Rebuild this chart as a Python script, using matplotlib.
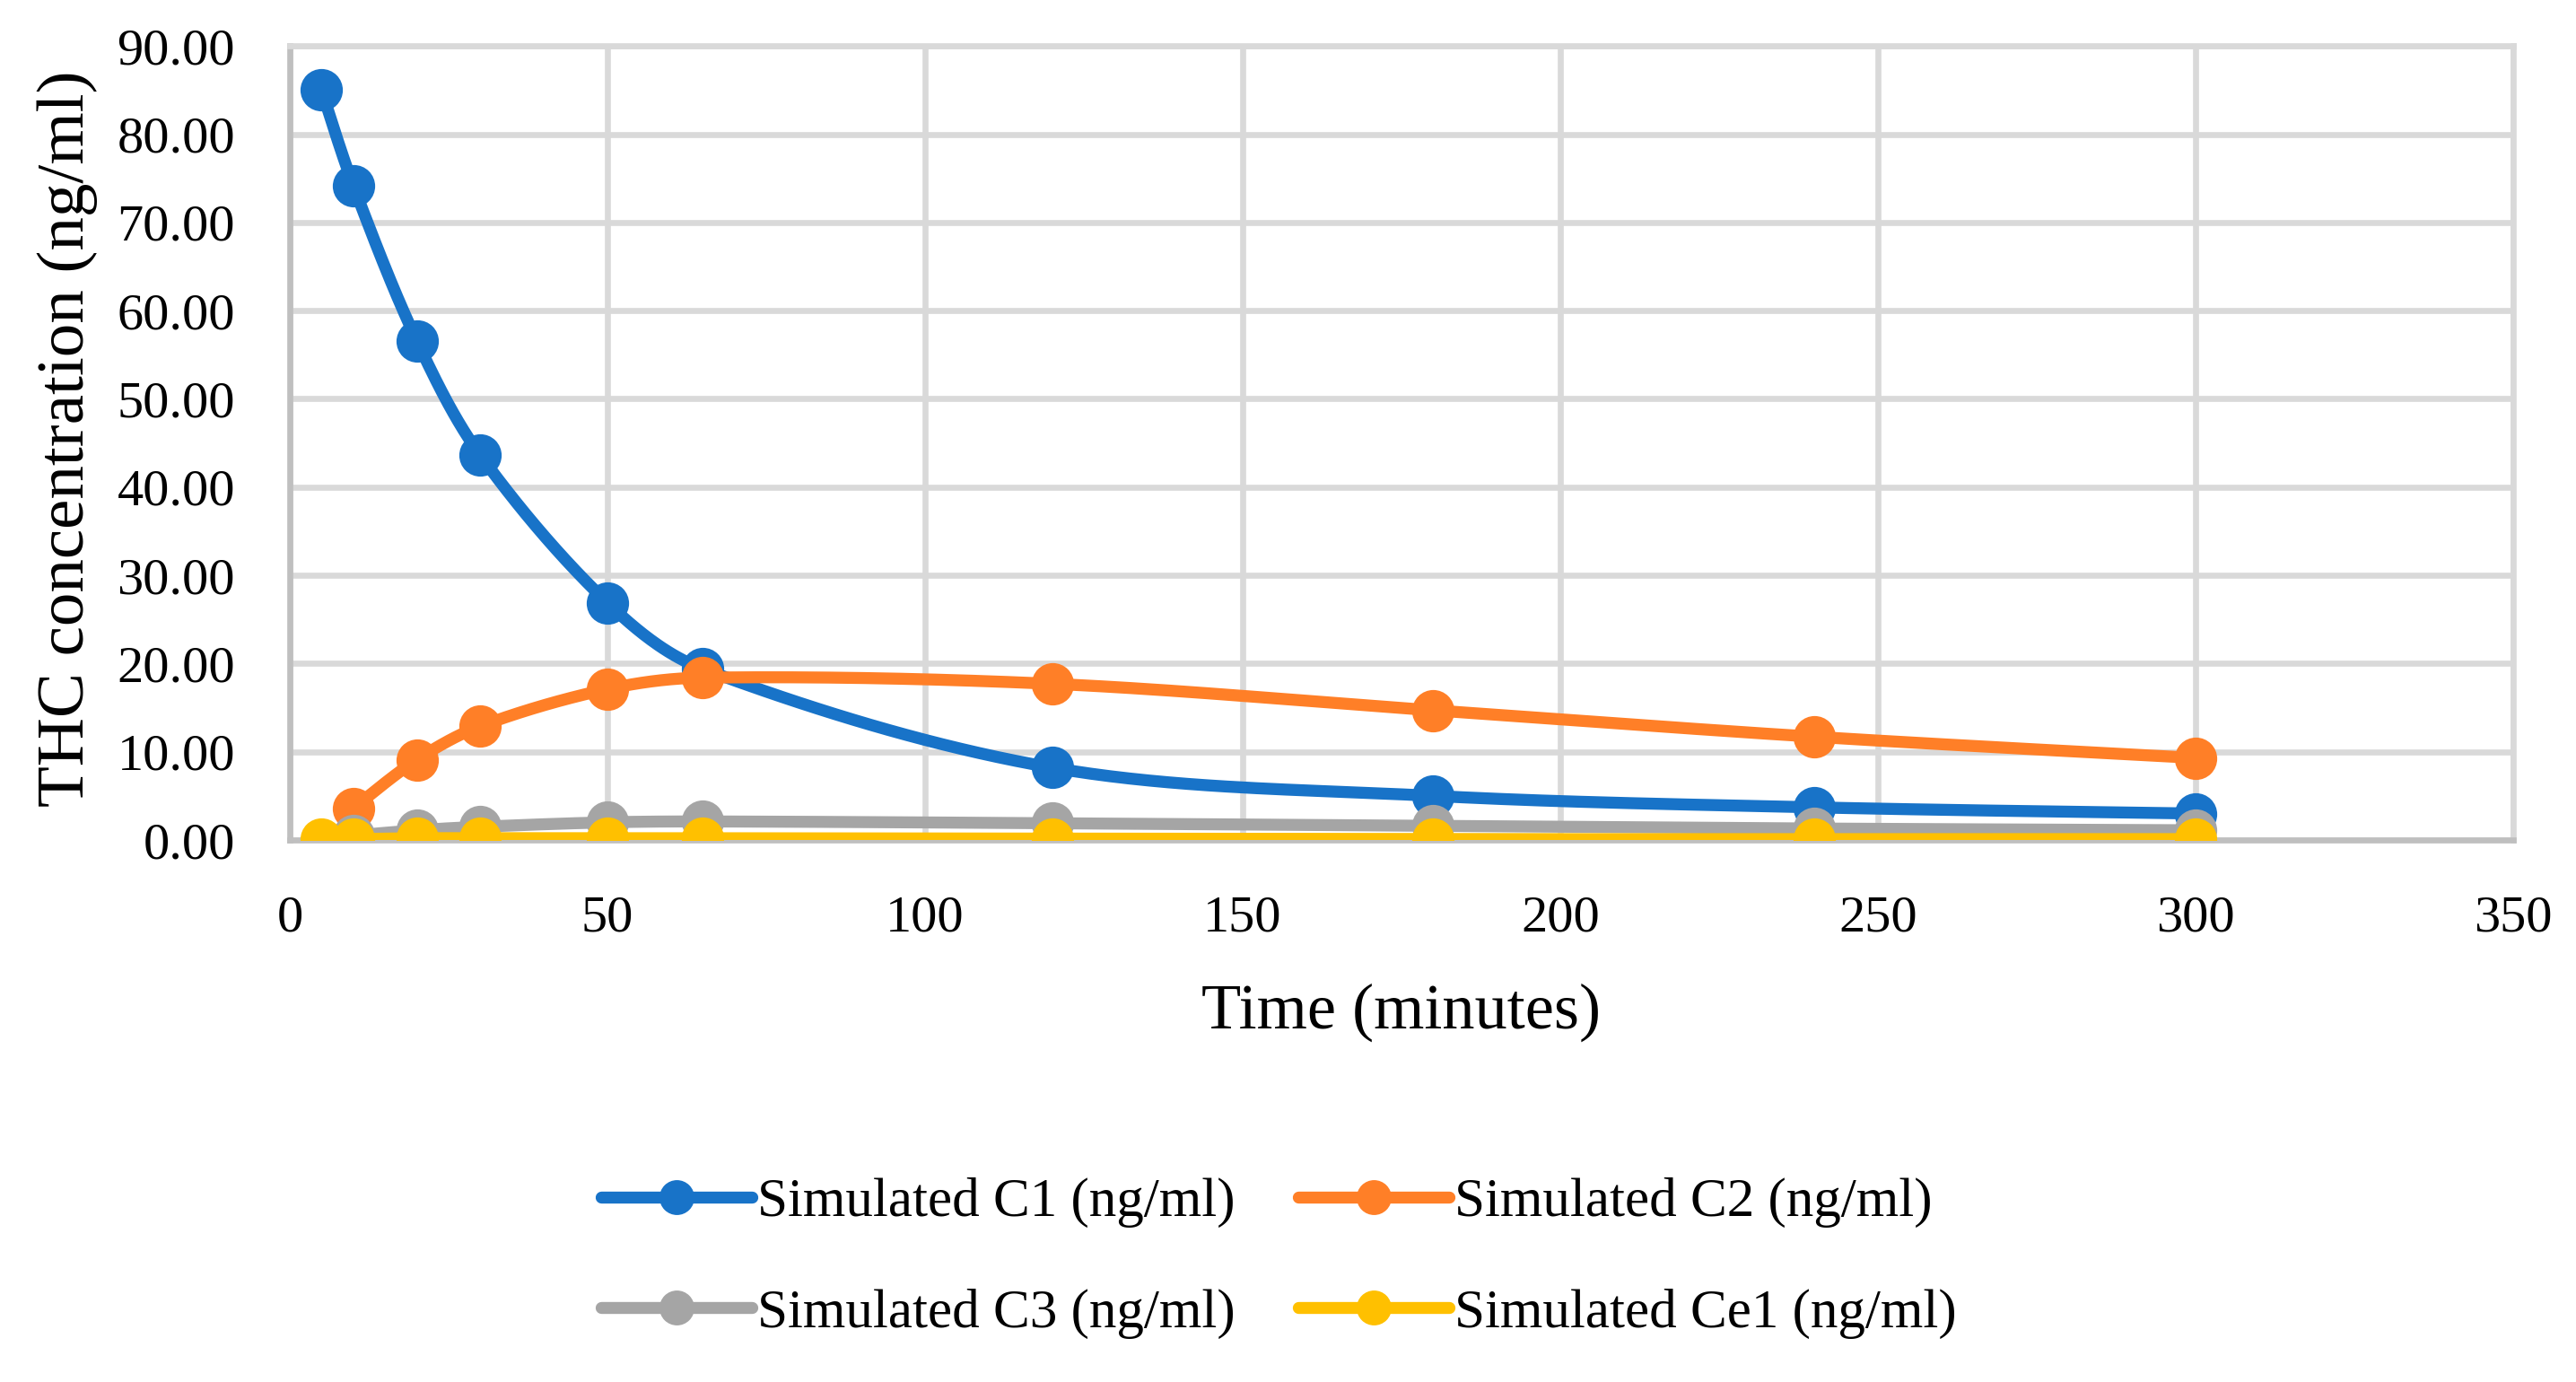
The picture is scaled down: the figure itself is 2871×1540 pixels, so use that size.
import numpy as np
import matplotlib
matplotlib.use('Agg')
import matplotlib.pyplot as plt
from matplotlib.lines import Line2D

plt.rcParams['font.family'] = ['Liberation Serif', 'DejaVu Serif']

# data
time_min = [5, 10, 20, 30, 50, 65, 120, 180, 240, 300]
c1 = [85.0, 74.2, 56.6, 43.6, 26.9, 19.4, 8.2, 5.0, 3.7, 3.0]
c2 = [np.nan, 3.6, 9.1, 12.9, 17.1, 18.4, 17.7, 14.7, 11.7, 9.3]
c3 = [np.nan, 0.5, 1.1, 1.5, 2.0, 2.1, 1.9, 1.6, 1.3, 1.1]
ce1 = [0.1, 0.1, 0.2, 0.2, 0.2, 0.2, 0.15, 0.1, 0.1, 0.1]

labels = ['Simulated C1 (ng/ml)', 'Simulated C2 (ng/ml)',
          'Simulated C3 (ng/ml)', 'Simulated Ce1 (ng/ml)']
colors = ['#1873C8', '#FF7F27', '#A5A5A5', '#FFC000']

x_ticks = np.arange(0, 351, 50)
y_ticks = np.arange(0, 91, 10)

# rough pixel size of one data unit, so the smoothing works in screen space
SX, SY = 7.08, 9.83


def smooth(xs, ys, n=40):
    # excel-like smoothed line: bezier segments, tangents scaled by segment length
    pts = np.column_stack([np.asarray(xs) * SX, np.asarray(ys) * SY])
    m = len(pts)
    out = []
    for i in range(m - 1):
        p1 = pts[i]
        p2 = pts[i + 1]
        d12 = np.hypot(*(p2 - p1))
        if i == 0:
            k1 = p1 + (p2 - p1) / 6.0
        else:
            p0 = pts[i - 1]
            d01 = np.hypot(*(p1 - p0))
            k1 = p1 + (p2 - p0) * d12 / (d01 + d12) / 3.0
        if i + 2 > m - 1:
            k2 = p2 - (p2 - p1) / 6.0
        else:
            p3 = pts[i + 2]
            d23 = np.hypot(*(p3 - p2))
            k2 = p2 - (p3 - p1) * d12 / (d12 + d23) / 3.0
        t = np.linspace(0, 1, n)[:, None]
        seg = ((1 - t) ** 3 * p1 + 3 * (1 - t) ** 2 * t * k1
               + 3 * (1 - t) * t ** 2 * k2 + t ** 3 * p2)
        out.append(seg if i == 0 else seg[1:])
    out = np.vstack(out)
    return out[:, 0] / SX, out[:, 1] / SY


fig = plt.figure(figsize=(14.355, 7.7), dpi=200)
ax = fig.add_axes([0.1125, 0.3922, 0.8631, 0.5745])

lw = 4.8
ms = 17
for i, (ys, col) in enumerate(zip([c1, c2, c3, ce1], colors)):
    xs = np.array(time_min, dtype=float)
    ys = np.array(ys, dtype=float)
    ok = ~np.isnan(ys)
    sx, sy = smooth(xs[ok], ys[ok])
    ax.plot(sx, sy, color=col, lw=lw, solid_capstyle='round', zorder=3 + 2 * i)
    ax.plot(xs[ok], ys[ok], 'o', color=col, ms=ms, mec='none', zorder=4 + 2 * i)

ax.set_xlim(0, 350)
ax.set_ylim(0, 90)
ax.set_xticks(x_ticks)
ax.set_yticks(y_ticks)
ax.set_yticklabels(['%.2f' % v for v in y_ticks])
ax.tick_params(length=0, labelsize=21, pad=22)
ax.grid(True, color='#D9D9D9', lw=2.4, zorder=0)
ax.set_axisbelow(True)
for s in ['left', 'bottom']:
    ax.spines[s].set_color('#BFBFBF')
    ax.spines[s].set_linewidth(2.4)
for s in ['top', 'right']:
    ax.spines[s].set_color('#D9D9D9')
    ax.spines[s].set_linewidth(2.4)

ax.set_xlabel('Time (minutes)', fontsize=26, va='center')
ax.xaxis.set_label_coords(0.5, -0.217)
ax.set_ylabel('THC concentration (ng/ml)', fontsize=27, va='center')
ax.yaxis.set_label_coords(-0.1, 0.505)

handles = [Line2D([], [], color=c, lw=lw, marker='o', ms=14, mec='none',
                  solid_capstyle='round') for c in colors]
# legend fills column by column, so order it to read C1 C2 / C3 Ce1 by rows
order = [0, 2, 1, 3]
fig.legend([handles[k] for k in order], [labels[k] for k in order],
           loc='center', bbox_to_anchor=(0.4965, 0.0896),
           ncol=2, frameon=False, fontsize=22, handlelength=2.75,
           handletextpad=0.1, columnspacing=1.15, labelspacing=1.1,
           borderpad=0, numpoints=1)

fig.savefig('out.png', dpi=200)
